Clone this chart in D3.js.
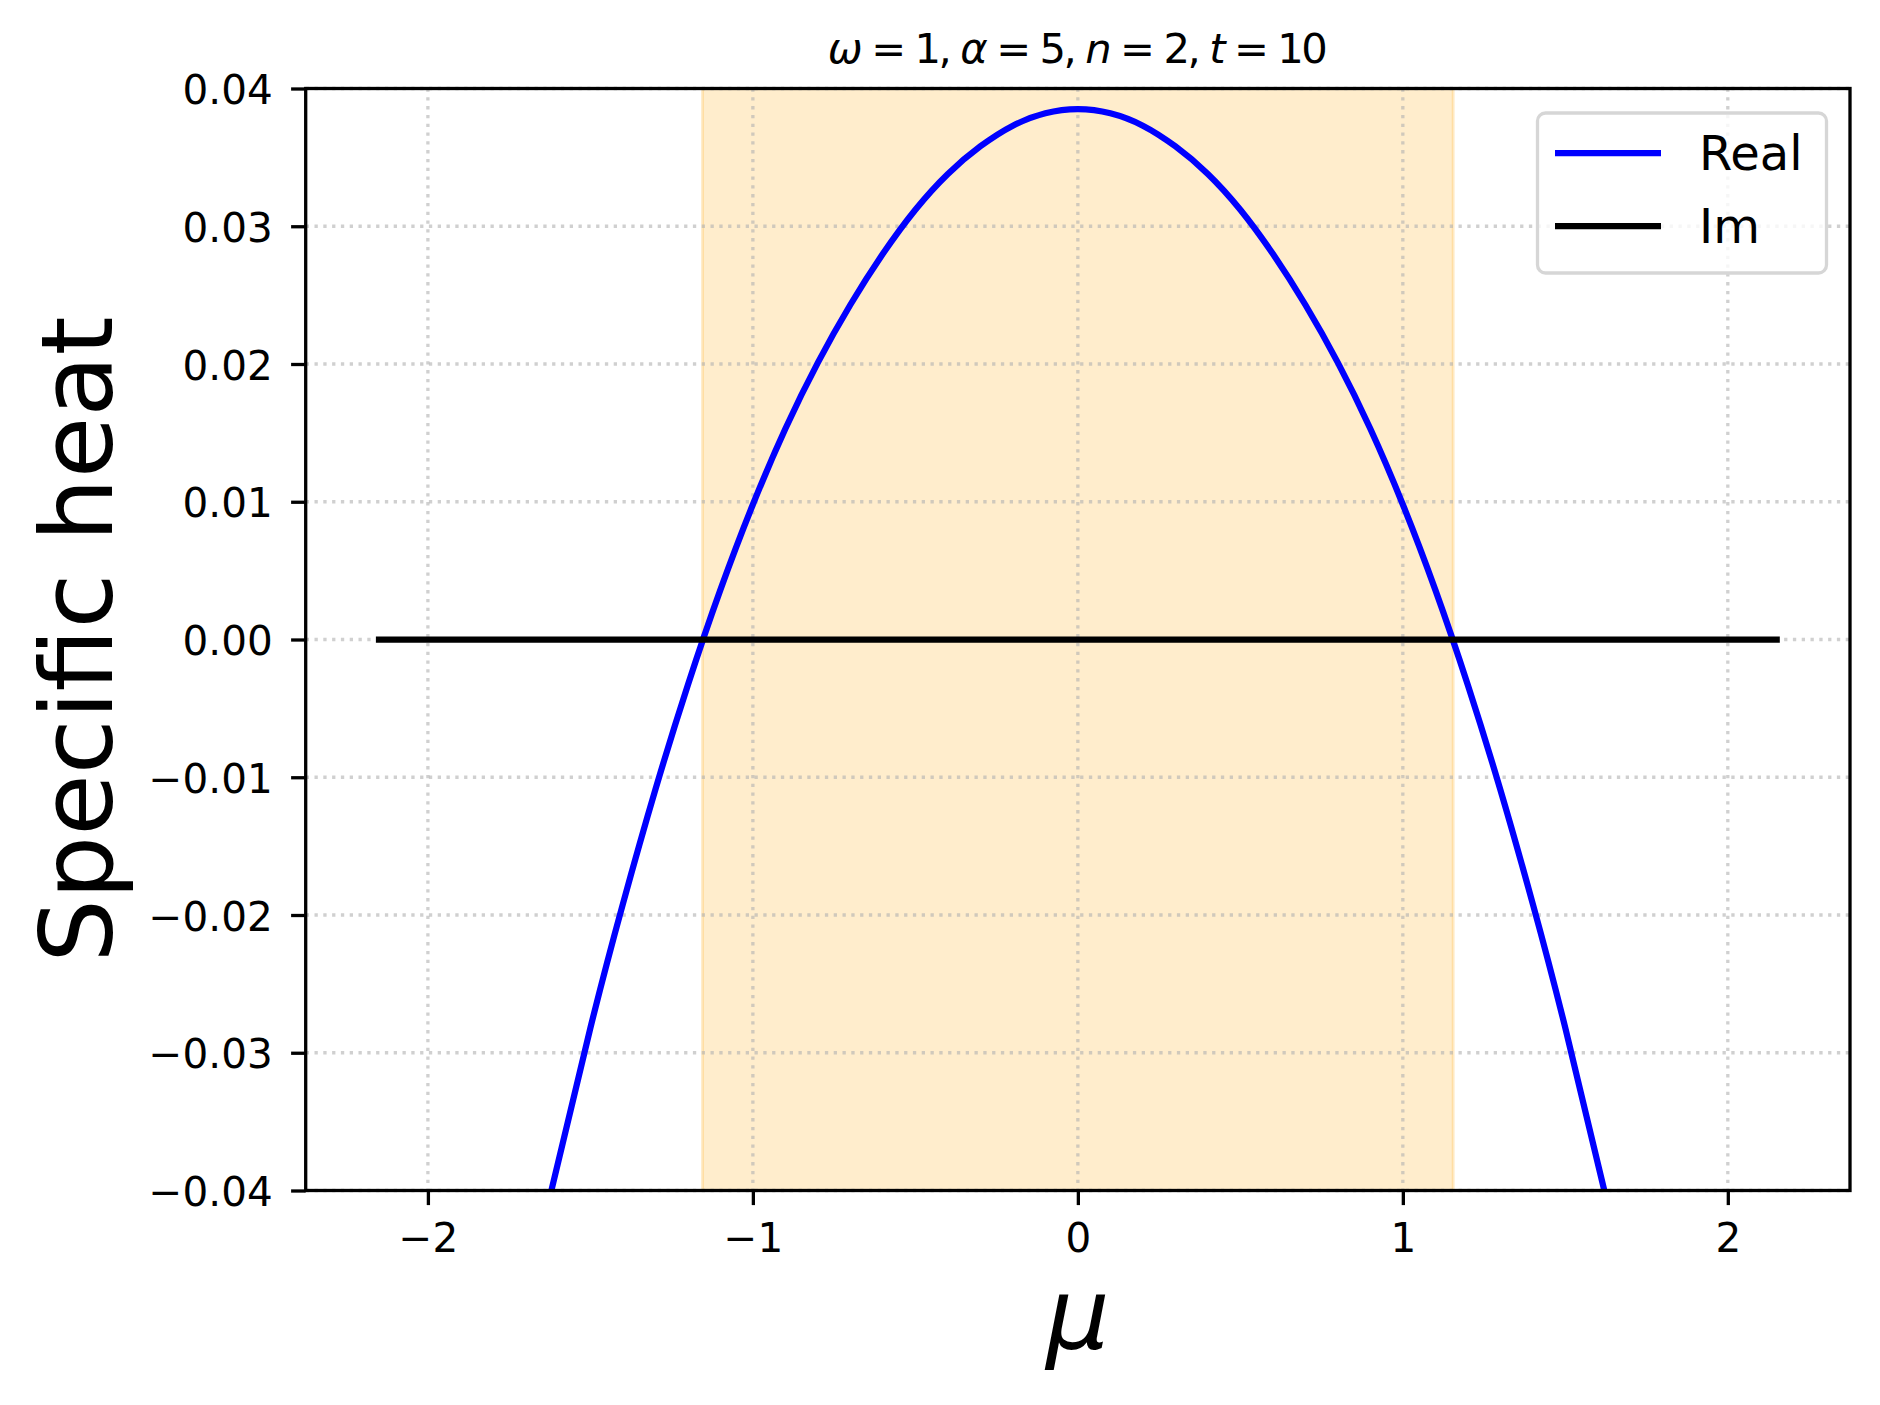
<!DOCTYPE html>
<html>
<head>
<meta charset="utf-8">
<script src="https://cdn.jsdelivr.net/npm/d3@7"></script>
<style>
  html, body { margin: 0; padding: 0; background: #fff; }
  svg { display: block; font-family: "DejaVu Sans", sans-serif; }
</style>
</head>
<body>
<svg id="chart" width="1880" height="1405"></svg>
<script>
// ---- data ----
const realMu = [-1.62, -1.5, -1.4, -1.3, -1.2, -1.1, -1.0, -0.9, -0.8, -0.7, -0.6, -0.5, -0.4, -0.3, -0.2, -0.1, 0,
                0.1, 0.2, 0.3, 0.4, 0.5, 0.6, 0.7, 0.8, 0.9, 1.0, 1.1, 1.2, 1.3, 1.4, 1.5, 1.62];
const realHeat = [-0.0400, -0.0282, -0.0192, -0.0109, -0.0033, 0.0036, 0.0098, 0.0153, 0.0201, 0.0243, 0.0280, 0.0312, 0.0338, 0.0358, 0.0373, 0.0382, 0.0385,
                  0.0382, 0.0373, 0.0358, 0.0338, 0.0312, 0.0280, 0.0243, 0.0201, 0.0153, 0.0098, 0.0036, -0.0033, -0.0109, -0.0192, -0.0282, -0.0400];
const imMu = [-2.16, 2.16];
const imHeat = [0, 0];
const shadeRange = [-1.155, 1.155];
const xTicks = [-2, -1, 0, 1, 2];
const yTicks = [-0.04, -0.03, -0.02, -0.01, 0.00, 0.01, 0.02, 0.03, 0.04];
const seriesNames = ["Real", "Im"];
const seriesColors = ["#0000ff", "#000000"];
const titleParts = [
  {t: "ω", i: true}, {t: " = 1, ", i: false}, {t: "α", i: true}, {t: " = 5, ", i: false},
  {t: "n", i: true}, {t: " = 2, ", i: false}, {t: "t", i: true}, {t: " = 10", i: false}
];

// ---- layout ----
const L = 305.7, R = 1850, T = 88.5, B = 1190.5;
const tickFs = 40.5;
const svg = d3.select("#chart");

const x = d3.scaleLinear().domain([-2.376, 2.376]).range([L, R]);
const y = d3.scaleLinear().domain([-0.04, 0.04]).range([B, T]);

svg.append("defs").append("clipPath").attr("id", "clip")
  .append("rect").attr("x", L).attr("y", T).attr("width", R - L).attr("height", B - T);

// shaded region
svg.append("rect")
  .attr("x", x(shadeRange[0])).attr("y", T)
  .attr("width", x(shadeRange[1]) - x(shadeRange[0])).attr("height", B - T)
  .attr("fill", "orange").attr("fill-opacity", 0.2)
  .attr("stroke", "orange").attr("stroke-opacity", 0.2).attr("stroke-width", 3);

// grid
const grid = svg.append("g").attr("stroke", "#b0b0b0").attr("stroke-opacity", 0.6)
  .attr("stroke-width", 3.3).attr("stroke-dasharray", "3.3,5.5");
grid.selectAll(".gx").data(xTicks).enter().append("line")
  .attr("x1", d => x(d)).attr("x2", d => x(d)).attr("y1", T).attr("y2", B);
grid.selectAll(".gy").data(yTicks).enter().append("line")
  .attr("y1", d => y(d)).attr("y2", d => y(d)).attr("x1", L).attr("x2", R);

// lines
const plot = svg.append("g").attr("clip-path", "url(#clip)");
const realData = realMu.map((m, i) => [m, realHeat[i]]);
const imData = imMu.map((m, i) => [m, imHeat[i]]);
const line = d3.line().x(d => x(d[0])).y(d => y(d[1])).curve(d3.curveNatural);
plot.append("path").datum(realData).attr("d", line)
  .attr("fill", "none").attr("stroke", seriesColors[0]).attr("stroke-width", 6.25)
  .attr("stroke-linejoin", "round");
plot.append("path").datum(imData).attr("d", d3.line().x(d => x(d[0])).y(d => y(d[1])))
  .attr("fill", "none").attr("stroke", seriesColors[1]).attr("stroke-width", 6.25);

// axes
const xAxis = d3.axisBottom(x).tickValues(xTicks).tickSize(14.6).tickPadding(14)
  .tickFormat(d => d < 0 ? "\u2212" + Math.abs(d) : String(d));
const gx = svg.append("g").attr("transform", `translate(0,${B})`).call(xAxis);
gx.select(".domain").remove();
gx.selectAll(".tick line").attr("stroke", "#000").attr("stroke-width", 3.3);
gx.selectAll(".tick text").attr("font-size", tickFs).attr("fill", "#000")
  .attr("font-family", "DejaVu Sans").attr("dy", null).attr("y", 61.5);

const yAxis = d3.axisLeft(y).tickValues(yTicks).tickSize(14.6).tickPadding(14)
  .tickFormat(d => (d < 0 ? "\u2212" : "") + Math.abs(d).toFixed(2));
const gy = svg.append("g").attr("transform", `translate(${L},0)`).call(yAxis);
gy.select(".domain").remove();
gy.selectAll(".tick line").attr("stroke", "#000").attr("stroke-width", 3.3);
gy.selectAll(".tick text").attr("font-size", tickFs).attr("fill", "#000")
  .attr("font-family", "DejaVu Sans").attr("dy", null).attr("y", 15).attr("x", -33);

// spines
svg.append("rect").attr("x", L).attr("y", T).attr("width", R - L).attr("height", B - T)
  .attr("fill", "none").attr("stroke", "#000").attr("stroke-width", 3.3);

// title
const title = svg.append("text").attr("x", (L + R) / 2).attr("y", 63.3)
  .attr("text-anchor", "middle").attr("font-size", 41.7).attr("fill", "#000")
  .attr("textLength", 500).attr("lengthAdjust", "spacing");
titleParts.forEach(p => title.append("tspan").text(p.t).attr("font-style", p.i ? "italic" : "normal"));

// axis labels
svg.append("text").attr("x", (L + R) / 2).attr("y", 1349).attr("text-anchor", "middle")
  .attr("font-size", 100).attr("font-style", "italic").attr("fill", "#000").text("μ");
svg.append("text").attr("transform", `translate(112,${(T + B) / 2}) rotate(-90)`)
  .attr("text-anchor", "middle").attr("font-size", 100).attr("fill", "#000").text("Specific heat");

// legend
const lg = svg.append("g");
lg.append("rect").attr("x", 1537.5).attr("y", 113).attr("width", 289).attr("height", 160)
  .attr("rx", 8).attr("fill", "#fff").attr("fill-opacity", 0.8)
  .attr("stroke", "#d6d6d6").attr("stroke-width", 3.3);
const legY = [153, 226];
seriesNames.forEach((n, i) => {
  lg.append("line").attr("x1", 1555).attr("x2", 1661).attr("y1", legY[i]).attr("y2", legY[i])
    .attr("stroke", seriesColors[i]).attr("stroke-width", 6.25);
  lg.append("text").attr("x", 1699).attr("y", legY[i] + 17).attr("font-size", 48)
    .attr("fill", "#000").text(n);
});
</script>
</body>
</html>
